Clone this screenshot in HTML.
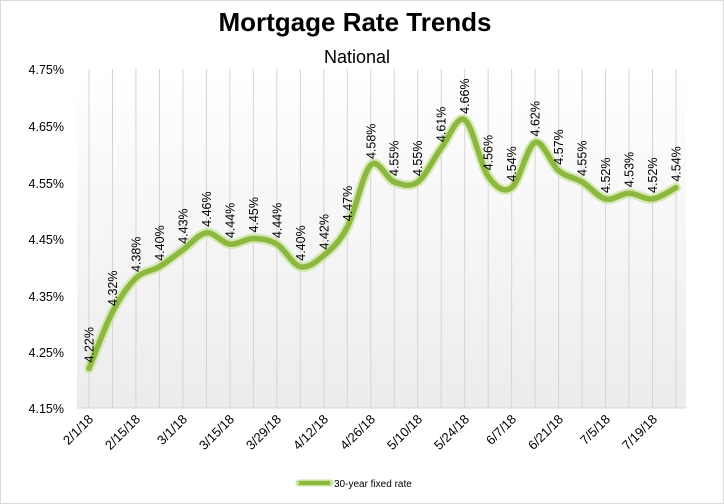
<!DOCTYPE html>
<html><head><meta charset="utf-8"><style>
body{margin:0;background:#fff}
svg{display:block;font-family:"Liberation Sans","DejaVu Sans",sans-serif}
</style></head><body>
<svg id="s" width="724" height="504" viewBox="0 0 724 504" xmlns="http://www.w3.org/2000/svg">
<defs>
<linearGradient id="bg" x1="0" y1="0" x2="0" y2="1">
<stop offset="0" stop-color="#ffffff"/><stop offset="1" stop-color="#ececec"/>
</linearGradient>
</defs>
<rect x="0.5" y="0.5" width="723" height="503" fill="#fff" stroke="#d9d9d9"/>
<rect x="77" y="69" width="609" height="339" fill="url(#bg)"/>
<g id="grid" stroke="#d4d4d4" stroke-width="1"></g>
<line x1="77" y1="408" x2="686" y2="408" stroke="#d9d9d9"/>
<text x="355" y="31" font-size="26" font-weight="bold" text-anchor="middle" fill="#000">Mortgage  Rate Trends</text>
<text x="357" y="63" font-size="18" text-anchor="middle" fill="#000">National</text>
<g font-size="12.5" fill="#000" text-anchor="end">
<text x="64" y="74">4.75%</text><text x="64" y="131">4.65%</text><text x="64" y="188">4.55%</text>
<text x="64" y="244">4.45%</text><text x="64" y="301">4.35%</text><text x="64" y="357">4.25%</text>
<text x="64" y="413">4.15%</text>
</g>
<path id="glow" fill="none" stroke="#c9e39a" stroke-width="10" stroke-opacity="0.7" stroke-linecap="round"/>
<path id="line" fill="none" stroke="#8cb83f" stroke-width="5.5" stroke-linecap="round"/>
<g id="xl" font-size="13" fill="#000" text-anchor="end">
<text transform="translate(94,420) rotate(-45)">2/1/18</text>
<text transform="translate(141,420) rotate(-45)">2/15/18</text>
<text transform="translate(188,420) rotate(-45)">3/1/18</text>
<text transform="translate(235,420) rotate(-45)">3/15/18</text>
<text transform="translate(282,420) rotate(-45)">3/29/18</text>
<text transform="translate(329,420) rotate(-45)">4/12/18</text>
<text transform="translate(376,420) rotate(-45)">4/26/18</text>
<text transform="translate(423,420) rotate(-45)">5/10/18</text>
<text transform="translate(470,420) rotate(-45)">5/24/18</text>
<text transform="translate(517,420) rotate(-45)">6/7/18</text>
<text transform="translate(564,420) rotate(-45)">6/21/18</text>
<text transform="translate(611,420) rotate(-45)">7/5/18</text>
<text transform="translate(658,420) rotate(-45)">7/19/18</text>
</g>
<g id="dl" font-size="12.5" fill="#000">
<text>4.22%</text><text>4.32%</text><text>4.38%</text><text>4.40%</text><text>4.43%</text><text>4.46%</text>
<text>4.44%</text><text>4.45%</text><text>4.44%</text><text>4.40%</text><text>4.42%</text><text>4.47%</text>
<text>4.58%</text><text>4.55%</text><text>4.55%</text><text>4.61%</text><text>4.66%</text><text>4.56%</text>
<text>4.54%</text><text>4.62%</text><text>4.57%</text><text>4.55%</text><text>4.52%</text><text>4.53%</text>
<text>4.52%</text><text>4.54%</text>
</g>
<line x1="299" y1="483" x2="330" y2="483" stroke="#c9e39a" stroke-width="7" stroke-linecap="round"/>
<line x1="299" y1="483" x2="330" y2="483" stroke="#8cb83f" stroke-width="4"/>
<text x="334" y="487" font-size="10" fill="#000">30-year fixed rate</text>
</svg>
<script>
var v=[4.22,4.32,4.38,4.40,4.43,4.46,4.44,4.45,4.44,4.40,4.42,4.47,4.58,4.55,4.55,4.61,4.66,4.56,4.54,4.62,4.57,4.55,4.52,4.53,4.52,4.54];
var ns="http://www.w3.org/2000/svg",P=[];
for(var i=0;i<v.length;i++){P.push([89+i*23.48,408-(v[i]-4.15)*565]);}
var g=document.getElementById('grid');
P.forEach(function(p){var l=document.createElementNS(ns,'line');l.setAttribute('x1',p[0]);l.setAttribute('x2',p[0]);l.setAttribute('y1',69);l.setAttribute('y2',408);g.appendChild(l);});
var d='M'+P[0][0]+','+P[0][1];
for(var i=0;i<P.length-1;i++){var p0=P[Math.max(i-1,0)],p1=P[i],p2=P[i+1],p3=P[Math.min(i+2,P.length-1)];
d+=' C'+(p1[0]+(p2[0]-p0[0])/6)+','+(p1[1]+(p2[1]-p0[1])/6)+' '+(p2[0]-(p3[0]-p1[0])/6)+','+(p2[1]-(p3[1]-p1[1])/6)+' '+p2[0]+','+p2[1];}
document.getElementById('glow').setAttribute('d',d);
document.getElementById('line').setAttribute('d',d);
var t=document.querySelectorAll('#dl text');
for(var i=0;i<t.length;i++){var x=P[i][0]+4.5,y=P[i][1]-6;t[i].setAttribute('transform','translate('+x+','+y+') rotate(-90)');}
</script>
</body></html>
